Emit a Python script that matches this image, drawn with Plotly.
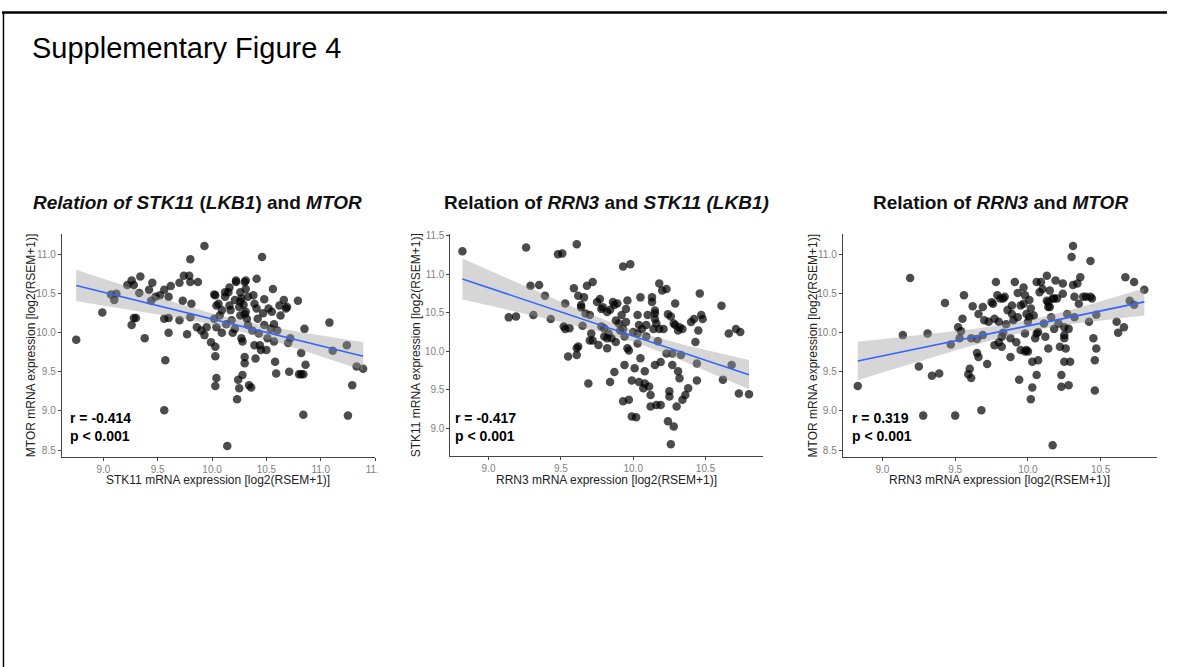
import numpy as np
import plotly.graph_objects as go

# ---------------- data ----------------
# Panel 1: STK11 (x) vs MTOR (y)
p1_stk11 = [8.75, 8.99, 9.07, 9.10, 9.12, 9.22, 9.26, 9.28, 9.26, 9.28, 9.30, 9.34, 9.33, 9.38, 9.42, 9.45,
            9.44, 9.48, 9.52, 9.56, 9.56, 9.57, 9.56, 9.60, 9.60, 9.60, 9.62, 9.70, 9.70, 9.73, 9.74, 9.77,
            9.79, 9.80, 9.80, 9.80, 9.81, 9.87, 9.86, 9.90, 9.93, 9.93, 9.95, 9.99, 10.02, 10.03, 10.04, 10.02,
            10.03, 10.04, 10.03, 10.03, 10.06, 10.07, 10.09, 10.09, 10.12, 10.14, 10.13, 10.15, 10.16, 10.17,
            10.18, 10.19, 10.21, 10.21, 10.22, 10.23, 10.24, 10.25, 10.26, 10.26, 10.27, 10.27, 10.28, 10.28,
            10.30, 10.30, 10.30, 10.31, 10.31, 10.32, 10.33, 10.33, 10.34, 10.36, 10.37, 10.38, 10.39, 10.39,
            10.40, 10.41, 10.41, 10.42, 10.43, 10.44, 10.45, 10.46, 10.47, 10.48, 10.48, 10.50, 10.51, 10.52,
            10.54, 10.55, 10.56, 10.57, 10.57, 10.58, 10.59, 10.60, 10.62, 10.63, 10.66, 10.68, 10.69, 10.70,
            10.71, 10.72, 10.79, 10.80, 10.82, 10.82, 10.84, 10.85, 10.86, 10.84, 11.08, 11.11, 11.24, 11.25,
            11.29, 11.33, 11.39, 10.26, 10.29, 10.30, 10.25, 10.04, 10.12, 10.16, 10.22, 10.31]
p1_mtor = [9.91, 10.26, 10.49, 10.42, 10.50, 10.61, 10.67, 10.61, 10.10, 10.19, 10.19, 10.72, 10.51, 9.93, 10.55, 10.64,
           10.41, 10.46, 10.48, 10.55, 10.18, 9.65, 9.01, 10.46, 10.19, 10.00, 10.60, 10.64, 10.16, 10.41, 10.73, 9.98,
           10.73, 10.65, 10.94, 10.20, 10.37, 10.65, 10.07, 10.03, 9.97, 11.11, 10.07, 9.88, 10.49, 10.48, 10.07, 10.18,
           9.82, 9.42, 9.32, 9.70, 10.37, 10.22, 10.29, 10.00, 10.46, 8.55, 10.11, 10.52, 10.35, 10.29,
           10.16, 10.00, 10.05, 10.42, 10.65, 9.15, 9.40, 9.29, 10.22, 10.52, 10.44, 9.93, 9.89, 9.46,
           9.61, 9.69, 10.65, 10.56, 10.27, 10.18, 10.46, 10.10, 9.33, 9.30, 10.03, 10.48, 10.37, 9.84,
           9.67, 10.69, 10.31, 10.18, 9.99, 9.84, 9.78, 10.97, 10.25, 10.43, 10.10, 9.78, 9.93, 10.31,
           10.05, 10.27, 10.56, 10.11, 9.89, 9.63, 9.48, 10.03, 10.35, 10.22, 10.42, 10.31, 10.33, 9.87,
           9.50, 9.93, 10.41, 9.47, 9.47, 9.74, 8.95, 10.05, 9.59, 9.47, 10.13, 9.77, 9.84, 8.94,
           9.33, 9.57, 9.54, 10.40, 10.36, 10.24, 10.33, 10.35, 10.52, 10.58, 10.67, 10.67]

# Panel 2: RRN3 (x) vs STK11 (y)
p2_rrn3 = [8.82, 9.26, 9.29, 9.35, 9.31, 9.14, 9.19, 9.39, 9.43, 9.48, 9.51, 9.53, 9.52, 9.53, 9.55, 9.56,
           9.59, 9.61, 9.61, 9.62, 9.62, 9.64, 9.65, 9.66, 9.67, 9.68, 9.69, 9.70, 9.71, 9.72, 9.72, 9.75,
           9.76, 9.77, 9.78, 9.79, 9.80, 9.80, 9.82, 9.82, 9.82, 9.84, 9.84, 9.85, 9.86, 9.87, 9.88, 9.88,
           9.89, 9.90, 9.91, 9.92, 9.93, 9.93, 9.94, 9.94, 9.95, 9.96, 9.97, 9.97, 9.98, 9.99, 9.99, 10.00,
           10.01, 10.02, 10.03, 10.03, 10.04, 10.04, 10.05, 10.05, 10.06, 10.07, 10.08, 10.08, 10.09, 10.09,
           10.10, 10.11, 10.12, 10.12, 10.13, 10.13, 10.14, 10.15, 10.15, 10.15, 10.16, 10.17, 10.18, 10.18,
           10.19, 10.19, 10.20, 10.21, 10.23, 10.23, 10.24, 10.24, 10.25, 10.25, 10.26, 10.26, 10.27, 10.27,
           10.28, 10.28, 10.29, 10.30, 10.31, 10.31, 10.32, 10.32, 10.33, 10.34, 10.34, 10.36, 10.38, 10.40,
           10.42, 10.43, 10.44, 10.44, 10.45, 10.46, 10.47, 10.48, 10.61, 10.62, 10.66, 10.68, 10.71, 10.73,
           10.74, 10.80, 9.95, 9.96, 9.93, 9.87, 9.78, 9.64, 9.61, 9.70, 9.83, 10.03, 10.15, 10.16, 10.29]
p2_stk11 = [11.30, 11.35, 10.85, 10.86, 10.47, 10.44, 10.45, 10.72, 10.42, 11.26, 11.27, 10.62, 10.32, 10.29, 9.93, 10.30,
            10.82, 11.39, 9.95, 10.06, 10.72, 10.60, 10.33, 10.70, 10.49, 10.85, 9.58, 10.47, 10.23, 10.90, 10.14, 10.64,
            10.08, 10.68, 10.32, 10.57, 10.19, 10.30, 10.51, 10.04, 10.17, 10.54, 9.60, 10.17, 10.64, 9.73, 10.40, 10.12,
            10.62, 10.36, 10.27, 10.47, 11.10, 9.35, 9.82, 10.19, 10.38, 10.66, 10.01, 9.37, 11.13, 9.62, 9.15, 10.25,
            9.78, 9.14, 10.47, 10.10, 9.60, 10.34, 10.70, 9.91, 10.29, 9.52, 9.74, 9.58, 10.19, 10.34,
            10.47, 9.54, 9.43, 9.28, 10.70, 10.64, 10.29, 10.53, 10.49, 9.82, 9.30, 10.13, 10.88, 10.29,
            9.86, 9.30, 10.79, 10.29, 9.97, 10.81, 10.48, 9.09, 9.48, 9.41, 10.45, 8.79, 9.97, 9.82,
            9.02, 10.36, 10.62, 9.28, 10.27, 9.74, 9.65, 10.31, 9.95, 10.29, 9.37, 9.43, 9.52, 10.38,
            10.42, 10.12, 9.84, 9.62, 10.27, 10.75, 10.47, 10.42, 10.59, 9.63, 10.23, 9.82, 10.29, 9.45,
            10.25, 9.44, 10.55, 10.04, 10.29, 10.60, 10.55, 10.57, 10.04, 10.14, 10.23, 10.23, 10.42, 10.36, 10.34]

# Panel 3: RRN3 (x) vs MTOR (y)
p3_rrn3 = [8.83, 9.14, 9.19, 9.25, 9.28, 9.31, 9.34, 9.39, 9.43, 9.47, 9.50, 9.52, 9.54, 9.55, 9.56, 9.53,
           9.59, 9.60, 9.61, 9.61, 9.62, 9.65, 9.65, 9.66, 9.66, 9.68, 9.69, 9.69, 9.70, 9.72, 9.73, 9.75,
           9.76, 9.77, 9.77, 9.78, 9.79, 9.80, 9.80, 9.81, 9.82, 9.83, 9.84, 9.85, 9.86, 9.88, 9.88, 9.89,
           9.89, 9.90, 9.91, 9.92, 9.93, 9.93, 9.94, 9.95, 9.95, 9.97, 9.98, 9.98, 9.98, 9.99, 10.00, 10.00,
           10.01, 10.02, 10.03, 10.03, 10.04, 10.05, 10.06, 10.06, 10.07, 10.07, 10.08, 10.09, 10.10, 10.11,
           10.12, 10.13, 10.13, 10.14, 10.14, 10.15, 10.16, 10.17, 10.18, 10.18, 10.19, 10.20, 10.21, 10.22,
           10.23, 10.23, 10.24, 10.24, 10.25, 10.25, 10.25, 10.26, 10.27, 10.28, 10.28, 10.29, 10.30, 10.31,
           10.31, 10.32, 10.32, 10.34, 10.35, 10.36, 10.38, 10.40, 10.42, 10.43, 10.43, 10.44, 10.45, 10.46,
           10.46, 10.47, 10.47, 10.61, 10.62, 10.66, 10.67, 10.70, 10.73, 10.73, 10.80,
           9.83, 9.97, 10.02, 10.01, 10.14, 10.15, 10.17, 10.25, 9.82, 9.99, 10.06]
p3_mtor = [9.32, 9.97, 10.70, 9.57, 8.94, 9.99, 9.45, 9.48, 10.38, 9.85, 8.94, 10.07, 10.02, 10.18, 10.48, 9.93,
           9.47, 9.54, 9.42, 9.93, 10.34, 9.92, 9.74, 10.24, 9.69, 9.01, 10.33, 9.97, 10.16, 9.60, 10.14, 10.39,
           10.37, 9.84, 10.18, 10.65, 10.48, 9.88, 10.14, 10.44, 9.82, 10.00, 10.46, 10.11, 10.29, 9.93, 9.69, 10.35,
           10.24, 10.16, 10.65, 9.88, 10.51, 10.20, 9.40, 9.78, 10.35, 10.58, 9.76, 9.99, 10.48, 10.24, 9.76, 10.14,
           10.42, 9.15, 9.63, 9.30, 10.22, 9.93, 9.46, 10.65, 9.65, 10.01, 10.52, 10.65, 10.56, 10.12,
           9.95, 10.73, 10.41, 10.33, 9.80, 10.54, 10.20, 8.56, 10.05, 10.44, 10.67, 10.44, 10.12, 9.82,
           9.46, 9.31, 10.50, 10.63, 9.63, 9.97, 9.93, 9.80, 10.24, 9.33, 10.05, 9.63, 10.97, 10.61,
           11.11, 10.20, 10.46, 10.63, 10.37, 10.71, 10.46, 10.46, 10.14, 10.46, 10.92, 10.44, 9.93, 9.65,
           9.26, 9.80, 10.23, 10.14, 10.00, 10.07, 10.71, 10.41, 10.65, 10.36, 10.55,
           10.44, 10.37, 10.31, 10.20, 10.39, 10.33, 10.44, 10.07, 9.95, 9.78, 9.99]

titles = ["<b><i>Relation of STK11</i> (<i>LKB1</i>) and <i>MTOR</i></b>",
          "<b>Relation of <i>RRN3</i> and <i>STK11 (LKB1)</i></b>",
          "<b>Relation of <i>RRN3</i> and <i>MTOR</i></b>"]
x_titles = ["STK11 mRNA expression [log2(RSEM+1)]",
            "RRN3 mRNA expression [log2(RSEM+1)]",
            "RRN3 mRNA expression [log2(RSEM+1)]"]
y_titles = ["MTOR mRNA expression [log2(RSEM+1)]",
            "STK11 mRNA expression [log2(RSEM+1)]",
            "MTOR mRNA expression [log2(RSEM+1)]"]
r_labels = ["r = -0.414", "r = -0.417", "r = 0.319"]
p_label = "p &lt; 0.001"
x_ticks = [[9.0, 9.5, 10.0, 10.5, 11.0, 11.5], [9.0, 9.5, 10.0, 10.5], [9.0, 9.5, 10.0, 10.5]]
y_ticks = [[8.5, 9.0, 9.5, 10.0, 10.5, 11.0], [9.0, 9.5, 10.0, 10.5, 11.0, 11.5], [8.5, 9.0, 9.5, 10.0, 10.5, 11.0]]

# ---------------- layout geometry (pixels) ----------------
W, H = 1177, 667
FONT = "Liberation Sans, Arial, sans-serif"
panels = [
    dict(x=(62.3, 378.3), y=(231.7, 455.3), xr=(8.617, 11.5), yr=(8.416, 11.26), tx=199, ytx=32, annx=69),
    dict(x=(454.3, 770.0), y=(231.7, 454.3), xr=(8.737, 10.9), yr=(8.643, 11.52), tx=612, ytx=420, annx=457),
    dict(x=(850.0, 1166.7), y=(231.7, 455.3), xr=(8.727, 10.886), yr=(8.416, 11.26), tx=1009, ytx=820, annx=857),
]


def px(v):
    return v / W


def py(v):
    return 1 - v / H


data_sets = [(p1_stk11, p1_mtor), (p2_rrn3, p2_stk11), (p3_rrn3, p3_mtor)]

fig = go.Figure()
annotations = []
T95 = 1.975

for i, ((xs, ys), pan) in enumerate(zip(data_sets, panels)):
    sfx = "" if i == 0 else str(i + 1)
    xa, ya = "x" + sfx, "y" + sfx
    x = np.array(xs)
    y = np.array(ys)
    # linear fit with 95% confidence band (as geom_smooth(method="lm"))
    n = len(x)
    b1, b0 = np.polyfit(x, y, 1)
    resid = y - (b0 + b1 * x)
    s = np.sqrt(np.sum(resid ** 2) / (n - 2))
    sxx = np.sum((x - x.mean()) ** 2)
    gx = np.linspace(x.min(), x.max(), 80)
    gy = b0 + b1 * gx
    se = s * np.sqrt(1 / n + (gx - x.mean()) ** 2 / sxx)
    lo, hi = gy - T95 * se, gy + T95 * se

    fig.add_trace(go.Scatter(x=x, y=y, mode="markers", xaxis=xa, yaxis=ya,
                             marker=dict(size=8.5, color="rgba(0,0,0,0.7)", line=dict(width=0)),
                             showlegend=False, hoverinfo="skip"))
    fig.add_trace(go.Scatter(x=np.concatenate([gx, gx[::-1]]), y=np.concatenate([hi, lo[::-1]]),
                             fill="toself", fillcolor="rgba(153,153,153,0.4)", line=dict(width=0),
                             mode="lines", xaxis=xa, yaxis=ya, showlegend=False, hoverinfo="skip"))
    fig.add_trace(go.Scatter(x=gx, y=gy, mode="lines", line=dict(color="#3366FF", width=1.6),
                             xaxis=xa, yaxis=ya, showlegend=False, hoverinfo="skip"))

    axis_common = dict(showline=True, linecolor="#444444", linewidth=1, ticks="outside", ticklen=3,
                       tickcolor="#444444", tickwidth=1, showgrid=False, zeroline=False,
                       tickfont=dict(family=FONT, size=10, color="#808080"), tickformat=".1f")
    fig.update_layout(**{
        "xaxis" + sfx: dict(domain=[px(pan["x"][0]), px(pan["x"][1])], range=list(pan["xr"]),
                            anchor=ya, tickvals=x_ticks[i], **axis_common),
        "yaxis" + sfx: dict(domain=[py(pan["y"][1]), py(pan["y"][0])], range=list(pan["yr"]),
                            anchor=xa, tickvals=y_ticks[i], **axis_common),
    })

    cx = (pan["x"][0] + pan["x"][1]) / 2
    cy = (pan["y"][0] + pan["y"][1]) / 2
    annotations += [
        dict(text=titles[i], x=px(pan["tx"]), y=py(200), xref="paper", yref="paper", showarrow=False,
             xanchor="center", yanchor="middle", font=dict(family=FONT, size=19, color="#111111")),
        dict(text=x_titles[i], x=px(cx), y=py(478.5), xref="paper", yref="paper", showarrow=False,
             xanchor="center", yanchor="middle", font=dict(family=FONT, size=12, color="#222222")),
        dict(text=y_titles[i], x=px(pan["ytx"]), y=py(cy), xref="paper", yref="paper", showarrow=False,
             textangle=-90, xanchor="center", yanchor="middle", font=dict(family=FONT, size=12, color="#222222")),
        dict(text="<b>" + r_labels[i] + "<br>" + p_label + "</b>", x=px(pan["annx"]), y=py(426),
             xref="paper", yref="paper", showarrow=False, align="left", xanchor="left", yanchor="middle",
             font=dict(family=FONT, size=14, color="#000000")),
    ]

annotations.append(dict(text="Supplementary Figure 4", x=px(30), y=py(44), xref="paper", yref="paper",
                        showarrow=False, xanchor="left", yanchor="middle",
                        font=dict(family=FONT, size=29, color="#000000")))

shapes = [
    dict(type="line", xref="paper", yref="paper", x0=px(2), x1=1, y0=py(8.5), y1=py(8.5),
         line=dict(color="#000000", width=2.5)),
    dict(type="line", xref="paper", yref="paper", x0=px(3.5), x1=px(3.5), y0=py(8), y1=0,
         line=dict(color="#000000", width=1.5)),
    # the source image is cropped right after the last tick of the first panel
    dict(type="rect", xref="paper", yref="paper", x0=px(381), x1=px(400), y0=py(472), y1=py(457),
         fillcolor="#ffffff", line=dict(width=0), layer="above"),
]

fig.update_layout(width=W, height=H, margin=dict(l=0, r=0, t=0, b=0), paper_bgcolor="white",
                  plot_bgcolor="white", annotations=annotations, shapes=shapes, showlegend=False)

# make the page exactly the figure: no body margin, no scrollbars
post_js = (
    "document.documentElement.style.margin='0';document.documentElement.style.padding='0';"
    "document.documentElement.style.overflow='hidden';"
    "document.body.style.margin='0';document.body.style.padding='0';document.body.style.overflow='hidden';"
    "var gd=document.getElementById('{plot_id}');"
    "Plotly.relayout(gd,{width:%d,height:%d});" % (W, H)
)

fig.write_html("out.html", config={"responsive": False, "displayModeBar": False}, post_script=post_js)
